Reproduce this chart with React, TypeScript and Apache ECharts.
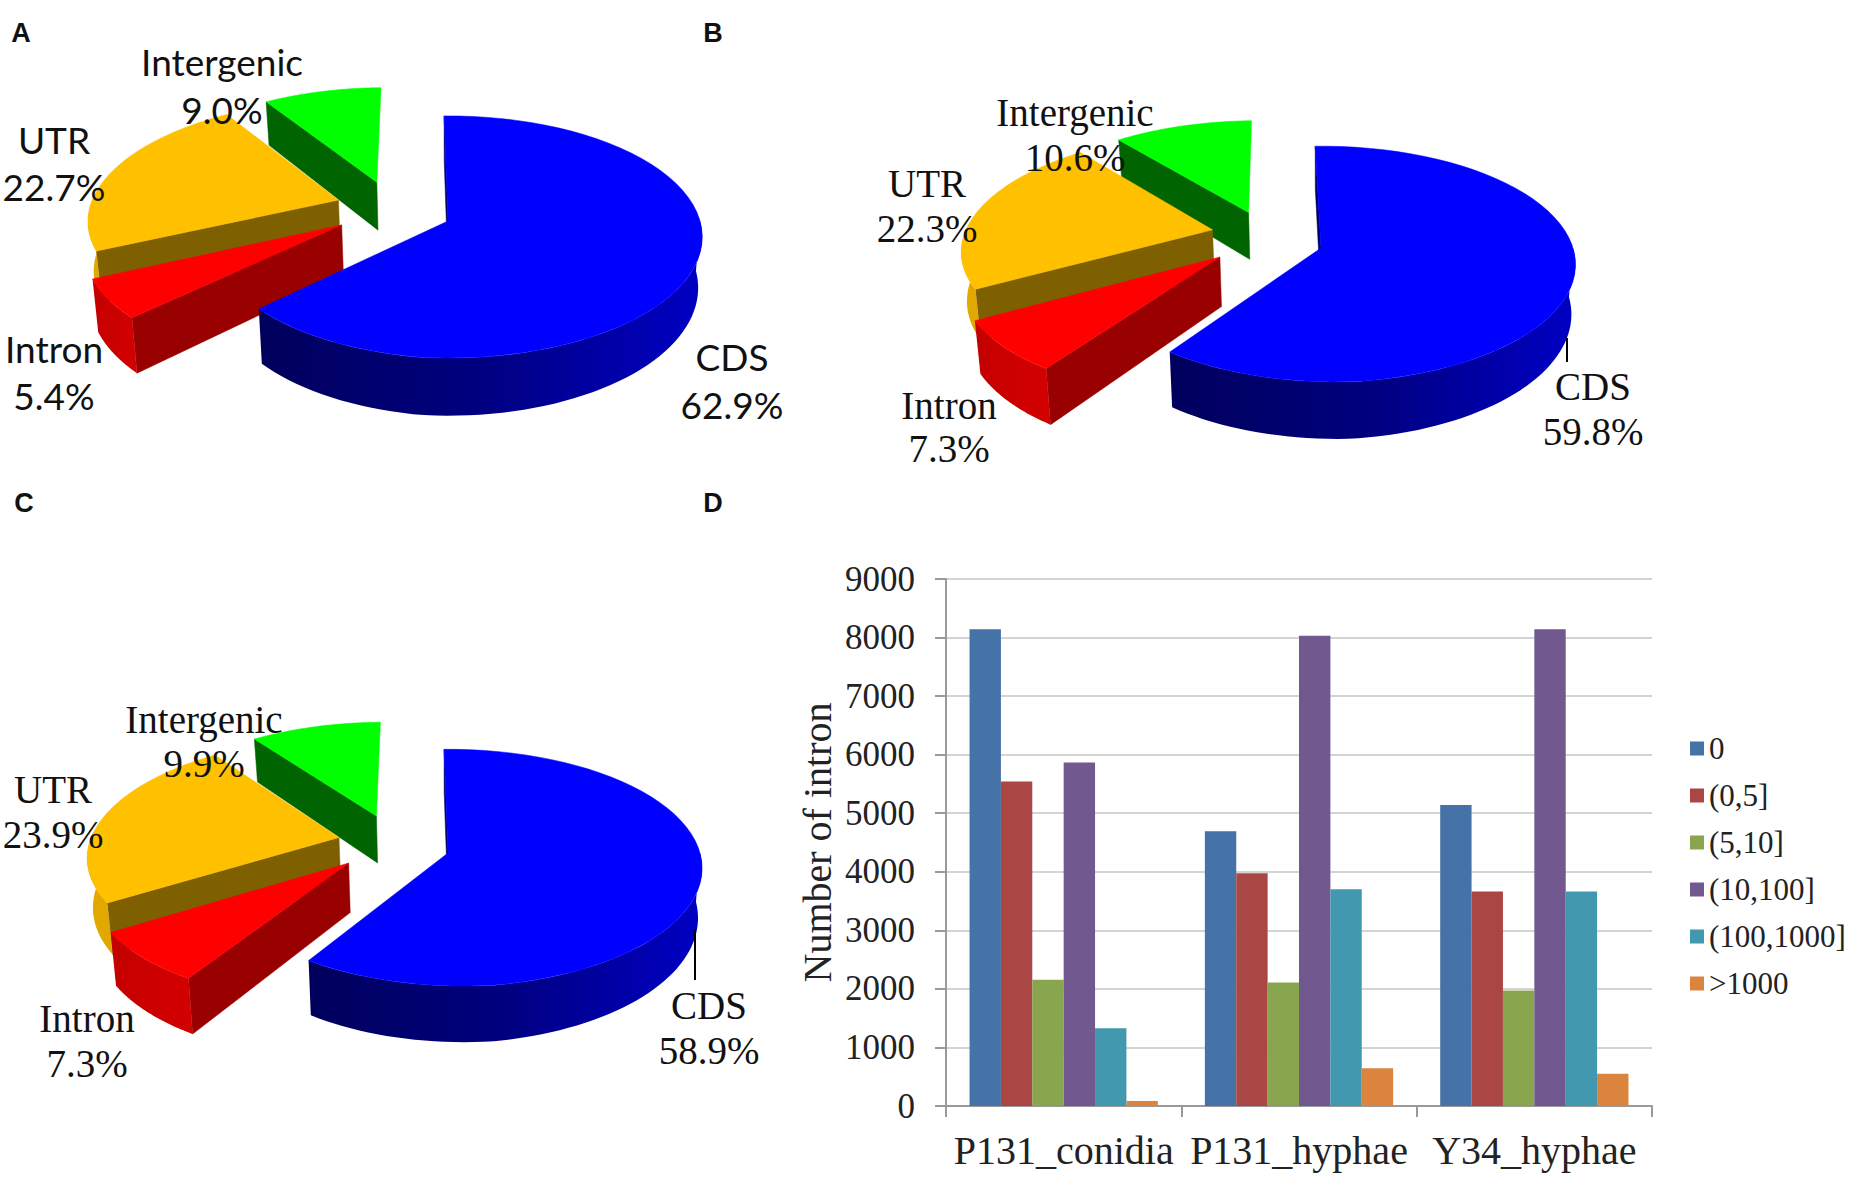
import { useEffect, useRef } from "react";
import * as echarts from "echarts";

// pie values, in slice order clockwise from 12 o'clock
const sliceNames = ["CDS", "Intron", "UTR", "Intergenic"];
const panelAValues = [62.9, 5.4, 22.7, 9.0];
const panelBValues = [59.8, 7.3, 22.3, 10.6];
const panelCValues = [58.9, 7.3, 23.9, 9.9];

// bar panel
const sampleNames = ["P131_conidia", "P131_hyphae", "Y34_hyphae"];
const binNames = ["0", "(0,5]", "(5,10]", "(10,100]", "(100,1000]", ">1000"];
const bin0 = [8140, 4690, 5142];
const bin0to5 = [5543, 3973, 3665];
const bin5to10 = [2158, 2108, 1972];
const bin10to100 = [5866, 8032, 8140];
const bin100to1000 = [1327, 3700, 3665];
const binOver1000 = [86, 645, 552];
const binValues = [bin0, bin0to5, bin5to10, bin10to100, bin100to1000, binOver1000];
const binColors = ["#4572a7", "#aa4643", "#89a54e", "#71588f", "#4198af", "#db843d"];

const sliceStyles = [
  { top: "#0000ff", wall: "#00006a", rim: ["#0000c4", "#000080", "#00005c"] },
  { top: "#ff0000", wall: "#990000", rim: ["#d40000", "#c40000"] },
  { top: "#ffc000", wall: "#7f6000", rim: ["#e0a800", "#e0a800"] },
  { top: "#00ff00", wall: "#006400", rim: ["#00a000", "#00a000"] },
];

// offsets are [u, v, radius] in pie units
const panelA = {
  values: panelAValues,
  cx: 448, cy: 221, rx: 252, ry: 119, k: 0.132, depth: 50, start: -91,
  offsets: [[0, 0, 1], [-0.42, 0.033, 1], [-0.445, -0.18, 1], [-0.295, -0.34, 0.975]],
  labels: [[732, 356, 404], [54, 348, 395], [54, 139, 186], [222, 61, 109]],
  font: "Lato", fontSize: 37,
  leader: null as number[] | null,
};
const panelB = {
  values: panelBValues,
  cx: 1321, cy: 248, rx: 252, ry: 116, k: 0.139, depth: 49, start: -91.5,
  offsets: [[0, 0, 1], [-0.397, 0.077, 1], [-0.44, -0.16, 1], [-0.3, -0.32, 0.975]],
  labels: [[1593, 386, 431], [949, 405, 448], [927, 183, 228], [1075, 112, 157]],
  font: "Liberation Serif", fontSize: 39,
  leader: [1567, 338, 362],
};
const panelC = {
  values: panelCValues,
  cx: 448, cy: 853, rx: 252, ry: 117, k: 0.128, depth: 49, start: -91,
  offsets: [[0, 0, 1], [-0.39, 0.085, 1], [-0.44, -0.135, 1], [-0.296, -0.33, 0.975]],
  labels: [[709, 1005, 1050], [87, 1018, 1063], [53, 789, 834], [204, 719, 763]],
  font: "Liberation Serif", fontSize: 39,
  leader: [695, 930, 980],
};

const PINCH = 0.016; // the underside of the pie sits a little narrower
const TAIL_TRIM = 0.04; // the CDS slice pulls in towards its closing edge
const TAIL_SPAN = 40;

const rad = (deg: number) => (deg * Math.PI) / 180;

function pieSeries(panel: typeof panelA) {
  const total = panel.values.reduce((a, b) => a + b, 0);
  const angles: number[] = [panel.start];
  panel.values.forEach((v, i) => angles.push(angles[i] + (v / total) * 360));

  // flat pie coordinates to the screen, nearer points come out larger
  const project = (u: number, v: number) => {
    const s = 1 / (1 - panel.k * v);
    return { x: panel.cx + panel.rx * u * s, y: panel.cy + panel.ry * v * s, s };
  };

  const renderItem = (_params: any, api: any) => {
    const idx = api.value(1);
    const value = api.value(0);
    const [ou, ov, radius] = panel.offsets[idx];
    const a0 = angles[idx];
    const a1 = angles[idx + 1];
    const style = sliceStyles[idx];
    const at = (deg: number) => {
      let r = radius;
      if (idx === 0 && deg > a1 - TAIL_SPAN) r *= 1 - (TAIL_TRIM * (deg - (a1 - TAIL_SPAN))) / TAIL_SPAN;
      return project(ou + r * Math.cos(rad(deg)), ov + r * Math.sin(rad(deg)));
    };
    const apex = project(ou, ov);
    const top = (p: { x: number; y: number }) => [p.x, p.y];
    const low = (p: { x: number; y: number; s: number }) => [
      p.x - (p.x - panel.cx) * PINCH,
      p.y + panel.depth * p.s,
    ];

    const arc: { x: number; y: number; s: number }[] = [];
    for (let i = 0; i <= 60; i++) arc.push(at(a0 + ((a1 - a0) * i) / 60));

    const children: any[] = [];

    const wallAt = (deg: number) => {
      const p = at(deg);
      children.push({
        type: "polygon",
        shape: { points: [top(apex), top(p), low(p), low(apex)] },
        style: { fill: style.wall, stroke: style.wall, lineWidth: 0.5 },
      });
    };
    if (Math.cos(rad(a0)) < 0) wallAt(a0);
    if (Math.cos(rad(a1)) > 0) wallAt(a1);

    // outer rim, only the near half shows
    const from = Math.max(a0, 0);
    const to = Math.min(a1, 180);
    if (to > from) {
      const rim: { x: number; y: number; s: number }[] = [];
      for (let i = 0; i <= 60; i++) rim.push(at(from + ((to - from) * i) / 60));
      const stops = style.rim.map((color, i) => ({ offset: i / (style.rim.length - 1), color }));
      children.push({
        type: "polygon",
        shape: { points: [...rim.map(top), ...rim.slice().reverse().map(low)] },
        style: { fill: new echarts.graphic.LinearGradient(1, 0, 0, 0, stops) },
      });
    }

    children.push({
      type: "polygon",
      shape: { points: [top(apex), ...arc.map(top)] },
      style: { fill: style.top, stroke: style.top, lineWidth: 0.5 },
    });

    const [lx, nameY, valueY] = panel.labels[idx];
    const textStyle = {
      fontFamily: panel.font,
      fontSize: panel.fontSize,
      fill: "#111111",
      align: "center",
      verticalAlign: "middle",
    };
    children.push(
      { type: "text", x: lx, y: nameY, z2: 100, style: { ...textStyle, text: sliceNames[idx] } },
      { type: "text", x: lx, y: valueY, z2: 100, style: { ...textStyle, text: `${value.toFixed(1)}%` } },
    );
    if (idx === 0 && panel.leader) {
      const [x, y1, y2] = panel.leader;
      children.push({
        type: "line",
        z2: 90,
        shape: { x1: x, y1, x2: x, y2 },
        style: { stroke: "#000000", lineWidth: 2 },
      });
    }
    return { type: "group", children };
  };

  // back to front: Intergenic, UTR, Intron, CDS
  const data = panel.values.map((v, i) => [v, i]).reverse();
  return {
    type: "custom",
    coordinateSystem: "none",
    silent: true,
    clip: false,
    renderItem,
    data,
  };
}

const panelLetter = (text: string, x: number, y: number) => ({
  type: "text",
  x,
  y,
  style: {
    text,
    fontFamily: "Liberation Sans",
    fontWeight: "bold",
    fontSize: 27,
    fill: "#111111",
    align: "center",
    verticalAlign: "middle",
  },
});

export default function App() {
  const chartRef = useRef<HTMLDivElement>(null);

  useEffect(() => {
    if (!chartRef.current) return;
    const chart = echarts.init(chartRef.current, null, { renderer: "svg" });

    chart.setOption({
      animation: false,
      backgroundColor: "#ffffff",
      grid: { left: 946, top: 579, width: 706, height: 527 },
      legend: {
        data: binNames,
        orient: "vertical",
        left: 1685,
        top: 728,
        itemWidth: 14,
        itemHeight: 14,
        itemGap: 16,
        selectedMode: false,
        icon: "rect",
        textStyle: {
          fontFamily: "Liberation Serif",
          fontSize: 31,
          color: "#222222",
          padding: [0, 0, 0, 0],
        },
      },
      xAxis: {
        type: "category",
        data: sampleNames,
        axisLine: { lineStyle: { color: "#9a9a9a", width: 2 } },
        axisTick: { show: true, alignWithLabel: false, length: 11, lineStyle: { color: "#9a9a9a", width: 2 } },
        axisLabel: {
          interval: 0,
          hideOverlap: false,
          fontFamily: "Liberation Serif",
          fontSize: 40,
          color: "#222222",
          margin: 24,
        },
      },
      yAxis: {
        type: "value",
        min: 0,
        max: 9000,
        interval: 1000,
        name: "Number of intron",
        nameLocation: "middle",
        nameGap: 109,
        nameTextStyle: { fontFamily: "Liberation Serif", fontSize: 40, color: "#222222" },
        axisLine: { show: true, lineStyle: { color: "#9a9a9a", width: 2 } },
        axisTick: { show: true, length: 11, lineStyle: { color: "#9a9a9a", width: 2 } },
        axisLabel: {
          formatter: (v: number) => String(v),
          fontFamily: "Liberation Serif",
          fontSize: 35,
          color: "#222222",
          margin: 31,
        },
        splitLine: { lineStyle: { color: "#d4d4d4", width: 2 } },
      },
      graphic: [
        panelLetter("A", 21, 33),
        panelLetter("B", 713, 33),
        panelLetter("C", 24, 503),
        panelLetter("D", 713, 503),
      ],
      series: [
        ...binNames.map((name, i) => ({
          name,
          type: "bar",
          data: binValues[i],
          barGap: 0,
          barCategoryGap: "20%",
          itemStyle: { color: binColors[i] },
        })),
        pieSeries(panelA),
        pieSeries(panelB),
        pieSeries(panelC),
      ],
    });

    return () => {
      chart.dispose();
    };
  }, []);

  return (
    <div
      ref={chartRef}
      style={{ position: "absolute", left: 0, top: 0, width: 1850, height: 1178 }}
    />
  );
}
